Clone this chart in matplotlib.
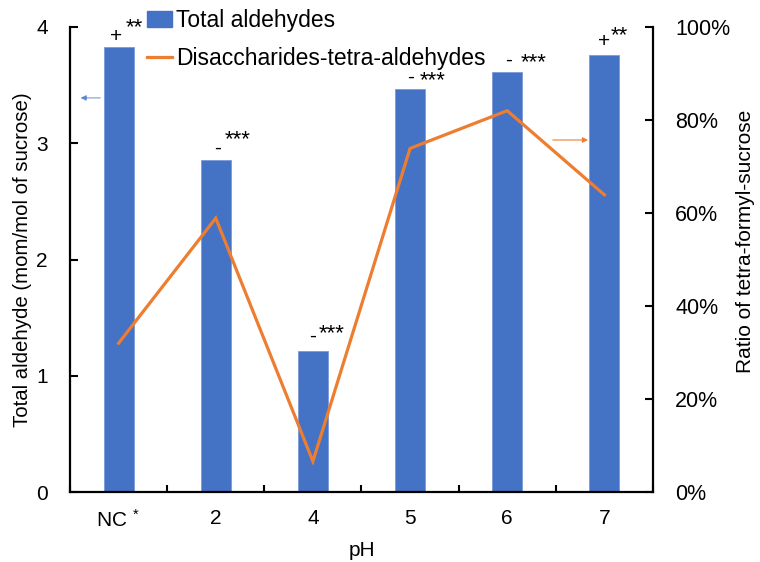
import numpy as np
import matplotlib
matplotlib.use('Agg')
from matplotlib import pyplot as plt
from matplotlib.lines import Line2D
from matplotlib.patches import Patch

plt.rcParams['font.family'] = ['Liberation Sans', 'DejaVu Sans']
plt.rcParams['mathtext.fontset'] = 'custom'
plt.rcParams['mathtext.rm'] = 'Liberation Sans'
plt.rcParams['mathtext.it'] = 'Liberation Sans'

# data
categories = ['NC$^{\\ *}$', '2', '4', '5', '6', '7']
total_aldehydes = [3.83, 2.86, 1.21, 3.47, 3.61, 3.76]
tetra_ratio = [0.32, 0.589, 0.066, 0.739, 0.82, 0.639]
signs = ['+', '-', '-', '-', '-', '+']
stars = ['**', '***', '***', '***', '***', '**']

# label offsets (px) from the bar top: sign dx, sign dy, stars dx, stars dy
sign_off = [(-3, 10), (2, 11), (0, 15), (0, 11), (1, 12), (0, 13)]
star_off = [(16, 19), (22, 20), (19, 18), (23, 8), (26, 10), (15, 19)]

blue = '#4472C4'
orange = '#ED7D31'

fig = plt.figure(figsize=(7.6, 5.62), dpi=100)
ax = fig.add_axes([70/760., 1-492/562., 583/760., 465/562.])
ax2 = ax.twinx()

x = np.arange(len(categories))
ax.bar(x, total_aldehydes, width=0.31, color=blue, edgecolor='#7a9ad8', linewidth=0.6, zorder=2)
ax2.plot(x, tetra_ratio, color=orange, lw=2.3, solid_joinstyle='miter', zorder=3)

ax.set_xlim(-0.5, len(categories)-0.5)
ax.set_ylim(0, 4)
ax2.set_ylim(0, 1)

ax.set_yticks([0, 1, 2, 3, 4])
ax2.set_yticks([0, 0.2, 0.4, 0.6, 0.8, 1.0])
ax2.set_yticklabels(['%d%%' % (v*100) for v in [0, 0.2, 0.4, 0.6, 0.8, 1.0]])

ax.set_xticks(x)
ax.set_xticklabels(categories)
ax.set_xticks(np.arange(-0.5, len(categories), 1.0), minor=True)
ax.tick_params(axis='x', which='major', length=0, pad=12, labelsize=15)
ax.tick_params(axis='x', which='minor', direction='in', length=5, width=1.5)
ax.tick_params(axis='y', direction='in', length=6, width=1.5, labelsize=15, pad=16)
ax2.tick_params(axis='y', direction='in', length=6, width=1.5, labelsize=15.5, pad=16)

for a in (ax, ax2):
    a.spines['top'].set_visible(False)
    for s in ('left', 'right', 'bottom'):
        a.spines[s].set_linewidth(1.6)
ax.spines['right'].set_visible(False)
ax2.spines['left'].set_visible(False)
ax2.spines['bottom'].set_visible(False)

ax.set_xlabel('pH', fontsize=15)
ax.xaxis.set_label_coords(0.5, -0.106)
ax.set_ylabel('Total aldehyde (mom/mol of sucrose)', fontsize=14.7)
ax.yaxis.set_label_coords(-0.065, 0.5)
ax2.set_ylabel('Ratio of tetra-formyl-sucrose', fontsize=15)
ax2.yaxis.set_label_coords(1.143, 0.54)

# significance marks above bars
for i, v in enumerate(total_aldehydes):
    ax.annotate(signs[i], (x[i], v), xytext=(sign_off[i][0]*0.72, sign_off[i][1]*0.72),
                textcoords='offset points', ha='center', va='center', fontsize=15)
    ax.annotate(stars[i], (x[i], v), xytext=(star_off[i][0]*0.72, star_off[i][1]*0.72),
                textcoords='offset points', ha='center', va='center', fontsize=16)

# axis pointer arrows
ax.annotate('', xy=(-0.42, 3.39), xytext=(-0.16, 3.39),
            arrowprops=dict(arrowstyle='-|>', color=blue, lw=0.8, mutation_scale=8, alpha=0.7))
ax2.annotate('', xy=(4.86, 0.757), xytext=(4.44, 0.757),
             arrowprops=dict(arrowstyle='-|>', color=orange, lw=0.8, mutation_scale=8))

handles = [Patch(facecolor=blue, edgecolor=blue),
           Line2D([], [], color=orange, lw=2.3)]
fig.legend(handles, ['Total aldehydes', 'Disaccharides-tetra-aldehydes'],
           loc='upper left', bbox_to_anchor=(147/760., 1-9/562.), frameon=False,
           fontsize=16.5, borderpad=0, handlelength=1.1, handletextpad=0.15,
           labelspacing=0.65, borderaxespad=0)

fig.savefig('out.png', dpi=100)
